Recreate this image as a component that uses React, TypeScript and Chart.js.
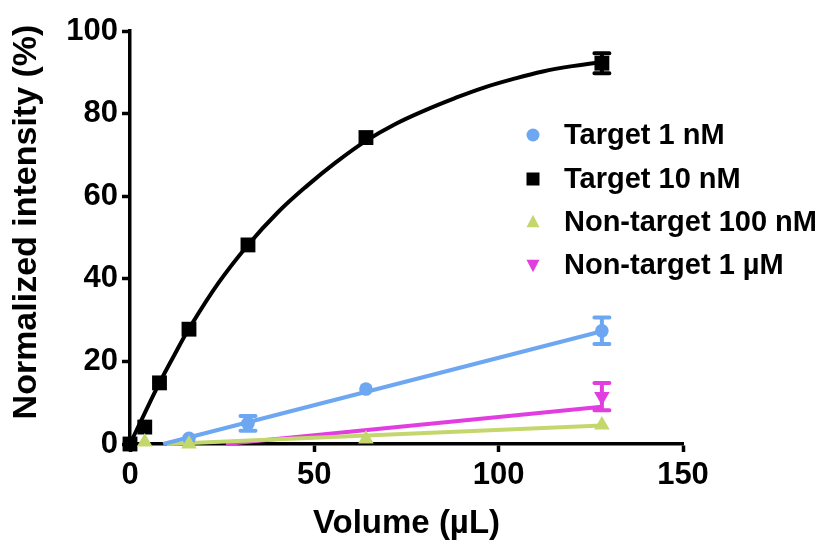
import React, { useEffect, useRef } from 'react';
import { Chart, registerables } from 'chart.js';

Chart.register(...registerables);

// ---- data ----
const seriesNames = ['Target 1 nM', 'Target 10 nM', 'Non-target 100 nM', 'Non-target 1 µM'];
const seriesColors = ['#6ea7f1', '#000000', '#c4d76c', '#e23de0'];

const t1X = [16, 32, 64, 128];
const t1Y = [1.4, 5.0, 13.3, 27.4];
const t1Err = [0, 1.8, 0, 3.2];

const t10X = [0, 4, 8, 16, 32, 64, 128];
const t10Y = [0, 4.1, 14.8, 27.8, 48.2, 74.2, 92.2];
const t10Err = [0, 0, 0, 0, 0, 0, 2.4];

const nt100X = [4, 16, 64, 128];
const nt100Y = [0.5, 0, 1.2, 4.6];

const nt1uX = [128];
const nt1uY = [11.5];
const nt1uErr = [3.3];

// fitted curves
const fitT10X = [0, 4, 8, 12, 16, 24, 32, 40, 48, 56, 64, 72, 80, 88, 96, 104, 112, 120, 128];
const fitT10Y = [0, 7.5, 14.8, 21.5, 27.9, 39, 48.2, 56, 62.5, 68.3, 73.4, 77.5, 80.8, 83.7, 86.3, 88.4, 90.2, 91.5, 92.5];
const fitT1X = [9, 128];
const fitT1Y = [0, 27.3];
const fitNt100X = [10, 128];
const fitNt100Y = [0, 4.5];
const fitNt1uX = [26, 128];
const fitNt1uY = [0, 9];

const xTickValues = [0, 50, 100, 150];
const yTickValues = [0, 20, 40, 60, 80, 100];
const xTitle = 'Volume (µL)';
const yTitle = 'Normalized intensity (%)';

const FONT = 'Arial, "Liberation Sans", Helvetica, sans-serif';

const pts = (xs: number[], ys: number[]) => xs.map((x, i) => ({ x, y: ys[i] }));

function drawMarker(ctx: CanvasRenderingContext2D, kind: string, x: number, y: number, s: number, color: string) {
  ctx.save();
  ctx.fillStyle = color;
  ctx.beginPath();
  if (kind === 'circle') {
    ctx.arc(x, y, s / 2, 0, Math.PI * 2);
  } else if (kind === 'rect') {
    ctx.rect(x - s / 2, y - s / 2, s, s);
  } else if (kind === 'tri') {
    ctx.moveTo(x, y - s * 0.55);
    ctx.lineTo(x + s / 2, y + s * 0.4);
    ctx.lineTo(x - s / 2, y + s * 0.4);
  } else {
    ctx.moveTo(x, y + s * 0.55);
    ctx.lineTo(x + s / 2, y - s * 0.4);
    ctx.lineTo(x - s / 2, y - s * 0.4);
  }
  ctx.closePath();
  ctx.fill();
  ctx.restore();
}

const errorBarPlugin = {
  id: 'errorBars',
  afterDatasetsDraw(chart: any) {
    const ctx = chart.ctx;
    const xs = chart.scales.x;
    const ys = chart.scales.y;
    chart.data.datasets.forEach((ds: any) => {
      if (!ds.errors) return;
      ds.data.forEach((p: any, i: number) => {
        const e = ds.errors[i];
        if (!e) return;
        const px = xs.getPixelForValue(p.x);
        const top = ys.getPixelForValue(p.y + e);
        const bot = ys.getPixelForValue(p.y - e);
        ctx.save();
        ctx.strokeStyle = ds.pointBackgroundColor;
        ctx.lineWidth = 4;
        ctx.lineCap = 'round';
        ctx.beginPath();
        ctx.moveTo(px, top);
        ctx.lineTo(px, bot);
        ctx.moveTo(px - 7.5, top);
        ctx.lineTo(px + 7.5, top);
        ctx.moveTo(px - 7.5, bot);
        ctx.lineTo(px + 7.5, bot);
        ctx.stroke();
        ctx.restore();
      });
    });
  },
};

const legendKinds = ['circle', 'rect', 'tri', 'itri'];
const legendPlugin = {
  id: 'innerLegend',
  afterDraw(chart: any) {
    const ctx = chart.ctx;
    const rows = [135, 179, 222, 265];
    ctx.save();
    ctx.font = `bold 29px ${FONT}`;
    ctx.textBaseline = 'middle';
    ctx.textAlign = 'left';
    seriesNames.forEach((name, i) => {
      drawMarker(ctx, legendKinds[i], 533, rows[i], 13, seriesColors[i]);
      ctx.fillStyle = '#000';
      ctx.fillText(name, 564, rows[i] + 1);
    });
    // y axis title
    ctx.translate(27, 222);
    ctx.rotate(-Math.PI / 2);
    ctx.textAlign = 'center';
    ctx.font = `bold 34px ${FONT}`;
    ctx.fillText(yTitle, 0, 0);
    ctx.restore();
  },
};

export default function App() {
  const ref = useRef<HTMLCanvasElement | null>(null);
  useEffect(() => {
    if (!ref.current) return;
    const line = (xs: number[], ys: number[], color: string, smooth: boolean) => ({
      type: 'line' as const,
      data: pts(xs, ys),
      borderColor: color,
      borderWidth: 4,
      pointRadius: 0,
      showLine: true,
      fill: false,
      tension: smooth ? 0.4 : 0,
      clip: false as any,
      order: 10,
    });
    const scatter = (xs: number[], ys: number[], color: string, style: string, r: number, rot: number, order: number, errors?: number[]) => ({
      type: 'scatter' as const,
      data: pts(xs, ys),
      pointStyle: style as any,
      pointRadius: r,
      pointRotation: rot,
      pointBackgroundColor: color,
      pointBorderWidth: 0,
      borderColor: color,
      showLine: false,
      clip: false as any,
      order,
      errors,
    });
    const chart = new Chart(ref.current, {
      type: 'scatter',
      data: {
        datasets: [
          line(fitT10X, fitT10Y, seriesColors[1], true),
          line(fitT1X, fitT1Y, seriesColors[0], false),
          line(fitNt100X, fitNt100Y, seriesColors[2], false),
          line(fitNt1uX, fitNt1uY, seriesColors[3], false),
          scatter(t1X, t1Y, seriesColors[0], 'circle', 6.8, 0, 5, t1Err),
          scatter(t10X, t10Y, seriesColors[1], 'rect', 10.5, 0, 4, t10Err),
          scatter(nt100X, nt100Y, seriesColors[2], 'triangle', 9, 0, 3),
          scatter(nt1uX, nt1uY, seriesColors[3], 'triangle', 9, 180, 2, nt1uErr),
        ] as any,
      },
      options: {
        animation: false,
        responsive: true,
        maintainAspectRatio: false,
        layout: { padding: { top: 31, right: 142, left: 0, bottom: 0 } },
        plugins: { legend: { display: false }, tooltip: { enabled: false } },
        scales: {
          x: {
            type: 'linear',
            min: 0,
            max: 150,
            afterFit: (s: any) => { s.height = 97; },
            afterBuildTicks: (s: any) => { s.ticks = xTickValues.map((v) => ({ value: v })); },
            grid: { drawOnChartArea: false, drawTicks: true, tickLength: 8, tickWidth: 3.5, tickColor: '#000' },
            border: { display: true, color: '#000', width: 3.5 },
            ticks: { color: '#000', padding: 5, font: { family: FONT, size: 31, weight: 'bold' }, maxRotation: 0 },
            title: { display: true, text: xTitle, color: '#000', padding: { top: 0, bottom: 1 }, font: { family: FONT, size: 33, weight: 'bold', lineHeight: 1 } },
          },
          y: {
            type: 'linear',
            min: 0,
            max: 100,
            afterFit: (s: any) => { s.width = 130; },
            afterBuildTicks: (s: any) => { s.ticks = yTickValues.map((v) => ({ value: v })); },
            grid: { drawOnChartArea: false, drawTicks: true, tickLength: 8, tickWidth: 3.5, tickColor: '#000' },
            border: { display: true, color: '#000', width: 3.5 },
            ticks: { color: '#000', padding: 4, font: { family: FONT, size: 31, weight: 'bold' } },
            title: { display: false },
          },
        },
      } as any,
      plugins: [errorBarPlugin, legendPlugin],
    });
    return () => chart.destroy();
  }, []);
  return (
    <div style={{ position: 'fixed', left: 0, top: 0, width: 825, height: 541, background: '#fff' }}>
      <canvas ref={ref} />
    </div>
  );
}
